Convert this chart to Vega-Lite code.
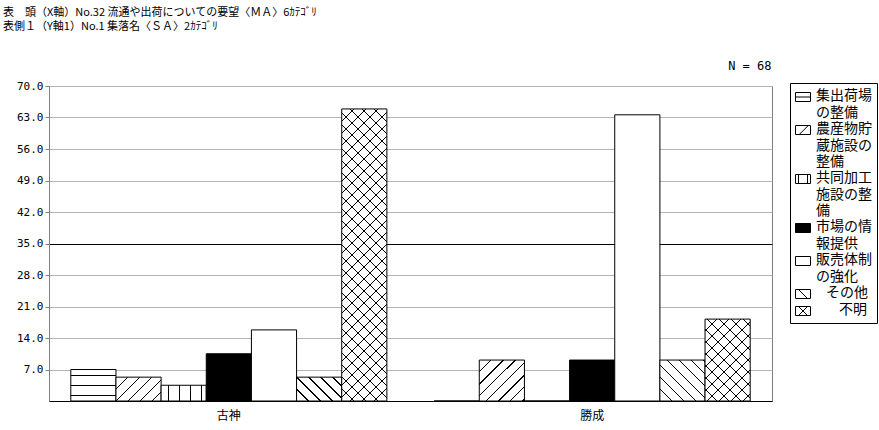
{
 "$schema": "https://vega.github.io/schema/vega-lite/v6.json",
 "width": 723,
 "height": 315,
 "autosize": "none",
 "padding": {"left": 49, "top": 86, "right": 107, "bottom": 29},
 "background": "white",
 "title": {"text": ["表　頭（X軸）No.32 流通や出荷についての要望〈ＭＡ〉6ｶﾃｺﾞﾘ", "表側１（Y軸1）No.1 集落名〈ＳＡ〉2ｶﾃｺﾞﾘ"], "anchor": "start", "frame": "group", "dx": -46, "offset": 16, "baseline": "bottom", "font": "Noto Sans CJK JP", "fontSize": 11, "fontWeight": "normal", "color": "black", "lineHeight": 14},
 "data": {"values": [
  {"group": "古神", "cat": "集出荷場の整備", "value": 7.0},
  {"group": "古神", "cat": "農産物貯蔵施設の整備", "value": 5.3},
  {"group": "古神", "cat": "共同加工施設の整備", "value": 3.5},
  {"group": "古神", "cat": "市場の情報提供", "value": 10.5},
  {"group": "古神", "cat": "販売体制の強化", "value": 15.8},
  {"group": "古神", "cat": "その他", "value": 5.3},
  {"group": "古神", "cat": "不明", "value": 64.9},
  {"group": "勝成", "cat": "集出荷場の整備", "value": 0},
  {"group": "勝成", "cat": "農産物貯蔵施設の整備", "value": 9.1},
  {"group": "勝成", "cat": "共同加工施設の整備", "value": 0},
  {"group": "勝成", "cat": "市場の情報提供", "value": 9.1},
  {"group": "勝成", "cat": "販売体制の強化", "value": 63.6},
  {"group": "勝成", "cat": "その他", "value": 9.1},
  {"group": "勝成", "cat": "不明", "value": 18.2}
 ]},
 "encoding": {
  "x": {"field": "group", "type": "nominal", "sort": ["古神", "勝成"], "scale": {"paddingInner": 0.13, "paddingOuter": 0.06},
   "axis": {"title": null, "labelAngle": 0, "labelFont": "Noto Sans CJK JP", "labelFontSize": 12, "labelColor": "black", "ticks": false, "domainColor": "black", "labelPadding": 9, "grid": false}},
  "xOffset": {"field": "cat", "type": "nominal", "scale": {"domain": ["集出荷場の整備", "農産物貯蔵施設の整備", "共同加工施設の整備", "市場の情報提供", "販売体制の強化", "その他", "不明"]}},
  "y": {"field": "value", "type": "quantitative", "scale": {"domain": [0, 70], "nice": false},
   "axis": {"values": [7, 14, 21, 28, 35, 42, 49, 56, 63, 70], "format": ".1f", "labelFont": "DejaVu Sans Mono", "labelFontSize": 11, "labelColor": "black", "labelPadding": 2, "tickSize": 4, "tickColor": "#808080", "domainColor": "#808080", "grid": true,
    "gridColor": {"condition": {"test": "datum.value === 35", "value": "black"}, "value": "#b4b4b4"},
    "title": "N = 68", "titleAngle": 0, "titleX": 722, "titleY": -17, "titleAlign": "right", "titleBaseline": "alphabetic", "titleFont": "DejaVu Sans Mono", "titleFontSize": 12, "titleFontWeight": "normal", "titleColor": "black"}}
 },
 "layer": [
  {
   "mark": {"type": "bar", "stroke": "black", "strokeWidth": 1},
   "encoding": {
    "fill": {
     "condition": [
      {"test": "datum.cat === '集出荷場の整備'", "value": {"gradient": "linear", "x1": 0, "y1": 1, "x2": 0, "y2": 0, "stops": [
       {"offset": 0.143, "color": "#fff"}, {"offset": 0.143, "color": "#000"}, {"offset": 0.175, "color": "#000"}, {"offset": 0.175, "color": "#fff"},
       {"offset": 0.476, "color": "#fff"}, {"offset": 0.476, "color": "#000"}, {"offset": 0.508, "color": "#000"}, {"offset": 0.508, "color": "#fff"},
       {"offset": 0.809, "color": "#fff"}, {"offset": 0.809, "color": "#000"}, {"offset": 0.841, "color": "#000"}, {"offset": 0.841, "color": "#fff"}]}},
      {"test": "datum.cat === '共同加工施設の整備'", "value": {"gradient": "linear", "x1": 0, "y1": 0, "x2": 1, "y2": 0, "stops": [
       {"offset": 0.155, "color": "#fff"}, {"offset": 0.155, "color": "#000"}, {"offset": 0.177, "color": "#000"}, {"offset": 0.177, "color": "#fff"},
       {"offset": 0.399, "color": "#fff"}, {"offset": 0.399, "color": "#000"}, {"offset": 0.421, "color": "#000"}, {"offset": 0.421, "color": "#fff"},
       {"offset": 0.643, "color": "#fff"}, {"offset": 0.643, "color": "#000"}, {"offset": 0.665, "color": "#000"}, {"offset": 0.665, "color": "#fff"},
       {"offset": 0.887, "color": "#fff"}, {"offset": 0.887, "color": "#000"}, {"offset": 0.909, "color": "#000"}, {"offset": 0.909, "color": "#fff"}]}},
      {"test": "datum.cat === '農産物貯蔵施設の整備' && datum.group === '古神'", "value": {"gradient": "linear", "x1": 0, "y1": 0, "x2": 1.195, "y2": 0.631, "stops": [
       {"offset": 0.164, "color": "#fff"}, {"offset": 0.164, "color": "#000"}, {"offset": 0.184, "color": "#000"}, {"offset": 0.184, "color": "#fff"},
       {"offset": 0.338, "color": "#fff"}, {"offset": 0.338, "color": "#000"}, {"offset": 0.358, "color": "#000"}, {"offset": 0.358, "color": "#fff"},
       {"offset": 0.512, "color": "#fff"}, {"offset": 0.512, "color": "#000"}, {"offset": 0.532, "color": "#000"}, {"offset": 0.532, "color": "#fff"},
       {"offset": 0.686, "color": "#fff"}, {"offset": 0.686, "color": "#000"}, {"offset": 0.706, "color": "#000"}, {"offset": 0.706, "color": "#fff"},
       {"offset": 0.860, "color": "#fff"}, {"offset": 0.860, "color": "#000"}, {"offset": 0.880, "color": "#000"}, {"offset": 0.880, "color": "#fff"}]}},
      {"test": "datum.cat === '農産物貯蔵施設の整備'", "value": {"gradient": "linear", "x1": 0, "y1": 0, "x2": 1.046, "y2": 0.949, "stops": [
       {"offset": 0.131, "color": "#fff"}, {"offset": 0.131, "color": "#000"}, {"offset": 0.147, "color": "#000"}, {"offset": 0.147, "color": "#fff"},
       {"offset": 0.271, "color": "#fff"}, {"offset": 0.271, "color": "#000"}, {"offset": 0.287, "color": "#000"}, {"offset": 0.287, "color": "#fff"},
       {"offset": 0.410, "color": "#fff"}, {"offset": 0.410, "color": "#000"}, {"offset": 0.426, "color": "#000"}, {"offset": 0.426, "color": "#fff"},
       {"offset": 0.549, "color": "#fff"}, {"offset": 0.549, "color": "#000"}, {"offset": 0.565, "color": "#000"}, {"offset": 0.565, "color": "#fff"},
       {"offset": 0.689, "color": "#fff"}, {"offset": 0.689, "color": "#000"}, {"offset": 0.705, "color": "#000"}, {"offset": 0.705, "color": "#fff"},
       {"offset": 0.828, "color": "#fff"}, {"offset": 0.828, "color": "#000"}, {"offset": 0.844, "color": "#000"}, {"offset": 0.844, "color": "#fff"},
       {"offset": 0.968, "color": "#fff"}, {"offset": 0.968, "color": "#000"}, {"offset": 0.984, "color": "#000"}, {"offset": 0.984, "color": "#fff"}]}},
      {"test": "datum.cat === 'その他' && datum.group === '古神'", "value": {"gradient": "linear", "x1": 0, "y1": 1, "x2": 1.195, "y2": 0.369, "stops": [
       {"offset": 0.164, "color": "#fff"}, {"offset": 0.164, "color": "#000"}, {"offset": 0.184, "color": "#000"}, {"offset": 0.184, "color": "#fff"},
       {"offset": 0.338, "color": "#fff"}, {"offset": 0.338, "color": "#000"}, {"offset": 0.358, "color": "#000"}, {"offset": 0.358, "color": "#fff"},
       {"offset": 0.512, "color": "#fff"}, {"offset": 0.512, "color": "#000"}, {"offset": 0.532, "color": "#000"}, {"offset": 0.532, "color": "#fff"},
       {"offset": 0.686, "color": "#fff"}, {"offset": 0.686, "color": "#000"}, {"offset": 0.706, "color": "#000"}, {"offset": 0.706, "color": "#fff"},
       {"offset": 0.860, "color": "#fff"}, {"offset": 0.860, "color": "#000"}, {"offset": 0.880, "color": "#000"}, {"offset": 0.880, "color": "#fff"}]}},
      {"test": "datum.cat === 'その他'", "value": {"gradient": "linear", "x1": 0, "y1": 1, "x2": 1.046, "y2": 0.051, "stops": [
       {"offset": 0.131, "color": "#fff"}, {"offset": 0.131, "color": "#000"}, {"offset": 0.147, "color": "#000"}, {"offset": 0.147, "color": "#fff"},
       {"offset": 0.271, "color": "#fff"}, {"offset": 0.271, "color": "#000"}, {"offset": 0.287, "color": "#000"}, {"offset": 0.287, "color": "#fff"},
       {"offset": 0.410, "color": "#fff"}, {"offset": 0.410, "color": "#000"}, {"offset": 0.426, "color": "#000"}, {"offset": 0.426, "color": "#fff"},
       {"offset": 0.549, "color": "#fff"}, {"offset": 0.549, "color": "#000"}, {"offset": 0.565, "color": "#000"}, {"offset": 0.565, "color": "#fff"},
       {"offset": 0.689, "color": "#fff"}, {"offset": 0.689, "color": "#000"}, {"offset": 0.705, "color": "#000"}, {"offset": 0.705, "color": "#fff"},
       {"offset": 0.828, "color": "#fff"}, {"offset": 0.828, "color": "#000"}, {"offset": 0.844, "color": "#000"}, {"offset": 0.844, "color": "#fff"},
       {"offset": 0.968, "color": "#fff"}, {"offset": 0.968, "color": "#000"}, {"offset": 0.984, "color": "#000"}, {"offset": 0.984, "color": "#fff"}]}},
      {"test": "datum.cat === '不明' && datum.group === '古神'", "value": {"gradient": "linear", "x1": 0, "y1": 0, "x2": 0.1744, "y2": 1.128, "stops": [
       {"offset": 0.0336, "color": "#fff"}, {"offset": 0.0336, "color": "#000"}, {"offset": 0.0376, "color": "#000"}, {"offset": 0.0376, "color": "#fff"},
       {"offset": 0.0692, "color": "#fff"}, {"offset": 0.0692, "color": "#000"}, {"offset": 0.0732, "color": "#000"}, {"offset": 0.0732, "color": "#fff"},
       {"offset": 0.1048, "color": "#fff"}, {"offset": 0.1048, "color": "#000"}, {"offset": 0.1088, "color": "#000"}, {"offset": 0.1088, "color": "#fff"},
       {"offset": 0.1404, "color": "#fff"}, {"offset": 0.1404, "color": "#000"}, {"offset": 0.1444, "color": "#000"}, {"offset": 0.1444, "color": "#fff"},
       {"offset": 0.176, "color": "#fff"}, {"offset": 0.176, "color": "#000"}, {"offset": 0.18, "color": "#000"}, {"offset": 0.18, "color": "#fff"},
       {"offset": 0.2116, "color": "#fff"}, {"offset": 0.2116, "color": "#000"}, {"offset": 0.2156, "color": "#000"}, {"offset": 0.2156, "color": "#fff"},
       {"offset": 0.2472, "color": "#fff"}, {"offset": 0.2472, "color": "#000"}, {"offset": 0.2512, "color": "#000"}, {"offset": 0.2512, "color": "#fff"},
       {"offset": 0.2828, "color": "#fff"}, {"offset": 0.2828, "color": "#000"}, {"offset": 0.2868, "color": "#000"}, {"offset": 0.2868, "color": "#fff"},
       {"offset": 0.3184, "color": "#fff"}, {"offset": 0.3184, "color": "#000"}, {"offset": 0.3224, "color": "#000"}, {"offset": 0.3224, "color": "#fff"},
       {"offset": 0.354, "color": "#fff"}, {"offset": 0.354, "color": "#000"}, {"offset": 0.358, "color": "#000"}, {"offset": 0.358, "color": "#fff"},
       {"offset": 0.3896, "color": "#fff"}, {"offset": 0.3896, "color": "#000"}, {"offset": 0.3936, "color": "#000"}, {"offset": 0.3936, "color": "#fff"},
       {"offset": 0.4252, "color": "#fff"}, {"offset": 0.4252, "color": "#000"}, {"offset": 0.4292, "color": "#000"}, {"offset": 0.4292, "color": "#fff"},
       {"offset": 0.4608, "color": "#fff"}, {"offset": 0.4608, "color": "#000"}, {"offset": 0.4648, "color": "#000"}, {"offset": 0.4648, "color": "#fff"},
       {"offset": 0.4964, "color": "#fff"}, {"offset": 0.4964, "color": "#000"}, {"offset": 0.5004, "color": "#000"}, {"offset": 0.5004, "color": "#fff"},
       {"offset": 0.532, "color": "#fff"}, {"offset": 0.532, "color": "#000"}, {"offset": 0.536, "color": "#000"}, {"offset": 0.536, "color": "#fff"},
       {"offset": 0.5676, "color": "#fff"}, {"offset": 0.5676, "color": "#000"}, {"offset": 0.5716, "color": "#000"}, {"offset": 0.5716, "color": "#fff"},
       {"offset": 0.6032, "color": "#fff"}, {"offset": 0.6032, "color": "#000"}, {"offset": 0.6072, "color": "#000"}, {"offset": 0.6072, "color": "#fff"},
       {"offset": 0.6388, "color": "#fff"}, {"offset": 0.6388, "color": "#000"}, {"offset": 0.6428, "color": "#000"}, {"offset": 0.6428, "color": "#fff"},
       {"offset": 0.6744, "color": "#fff"}, {"offset": 0.6744, "color": "#000"}, {"offset": 0.6784, "color": "#000"}, {"offset": 0.6784, "color": "#fff"},
       {"offset": 0.71, "color": "#fff"}, {"offset": 0.71, "color": "#000"}, {"offset": 0.714, "color": "#000"}, {"offset": 0.714, "color": "#fff"},
       {"offset": 0.7456, "color": "#fff"}, {"offset": 0.7456, "color": "#000"}, {"offset": 0.7496, "color": "#000"}, {"offset": 0.7496, "color": "#fff"},
       {"offset": 0.7812, "color": "#fff"}, {"offset": 0.7812, "color": "#000"}, {"offset": 0.7852, "color": "#000"}, {"offset": 0.7852, "color": "#fff"},
       {"offset": 0.8168, "color": "#fff"}, {"offset": 0.8168, "color": "#000"}, {"offset": 0.8208, "color": "#000"}, {"offset": 0.8208, "color": "#fff"},
       {"offset": 0.8524, "color": "#fff"}, {"offset": 0.8524, "color": "#000"}, {"offset": 0.8564, "color": "#000"}, {"offset": 0.8564, "color": "#fff"},
       {"offset": 0.888, "color": "#fff"}, {"offset": 0.888, "color": "#000"}, {"offset": 0.892, "color": "#000"}, {"offset": 0.892, "color": "#fff"},
       {"offset": 0.9236, "color": "#fff"}, {"offset": 0.9236, "color": "#000"}, {"offset": 0.9276, "color": "#000"}, {"offset": 0.9276, "color": "#fff"},
       {"offset": 0.9592, "color": "#fff"}, {"offset": 0.9592, "color": "#000"}, {"offset": 0.9632, "color": "#000"}, {"offset": 0.9632, "color": "#fff"}]}},
      {"test": "datum.cat === '不明'", "value": {"gradient": "linear", "x1": 0, "y1": 0, "x2": 0.656, "y2": 1.1897, "stops": [
       {"offset": 0.089, "color": "#fff"}, {"offset": 0.089, "color": "#000"}, {"offset": 0.1, "color": "#000"}, {"offset": 0.1, "color": "#fff"},
       {"offset": 0.1835, "color": "#fff"}, {"offset": 0.1835, "color": "#000"}, {"offset": 0.1945, "color": "#000"}, {"offset": 0.1945, "color": "#fff"},
       {"offset": 0.278, "color": "#fff"}, {"offset": 0.278, "color": "#000"}, {"offset": 0.289, "color": "#000"}, {"offset": 0.289, "color": "#fff"},
       {"offset": 0.3725, "color": "#fff"}, {"offset": 0.3725, "color": "#000"}, {"offset": 0.3835, "color": "#000"}, {"offset": 0.3835, "color": "#fff"},
       {"offset": 0.467, "color": "#fff"}, {"offset": 0.467, "color": "#000"}, {"offset": 0.478, "color": "#000"}, {"offset": 0.478, "color": "#fff"},
       {"offset": 0.5615, "color": "#fff"}, {"offset": 0.5615, "color": "#000"}, {"offset": 0.5725, "color": "#000"}, {"offset": 0.5725, "color": "#fff"},
       {"offset": 0.656, "color": "#fff"}, {"offset": 0.656, "color": "#000"}, {"offset": 0.667, "color": "#000"}, {"offset": 0.667, "color": "#fff"},
       {"offset": 0.7505, "color": "#fff"}, {"offset": 0.7505, "color": "#000"}, {"offset": 0.7615, "color": "#000"}, {"offset": 0.7615, "color": "#fff"},
       {"offset": 0.845, "color": "#fff"}, {"offset": 0.845, "color": "#000"}, {"offset": 0.856, "color": "#000"}, {"offset": 0.856, "color": "#fff"},
       {"offset": 0.9395, "color": "#fff"}, {"offset": 0.9395, "color": "#000"}, {"offset": 0.9505, "color": "#000"}, {"offset": 0.9505, "color": "#fff"}]}}
     ],
     "field": "cat", "type": "nominal",
     "scale": {"domain": ["集出荷場の整備", "農産物貯蔵施設の整備", "共同加工施設の整備", "市場の情報提供", "販売体制の強化", "その他", "不明"], "range": ["white", "white", "white", "black", "white", "white", "white"]},
     "legend": {
      "title": null, "orient": "none", "legendX": 741, "legendY": -3, "padding": 5, "strokeColor": "black", "fillColor": "white",
      "symbolType": "M-1,-0.6H1V0.6H-1Z", "symbolSize": 225, "symbolStrokeColor": "black", "symbolStrokeWidth": 1,
      "labelFont": "Noto Sans CJK JP", "labelFontSize": 14, "labelColor": "black", "labelOffset": 5, "labelBaseline": "top", "rowPadding": 1,
      "labelExpr": "length(datum.label) > 8 ? [substring(datum.label, 0, 4), substring(datum.label, 4, 8), substring(datum.label, 8)] : length(datum.label) > 4 ? [substring(datum.label, 0, 4), substring(datum.label, 4)] : datum.label",
      "encode": {
       "symbols": {"update": {"y": {"value": 9}, "shape": [
        {"test": "datum.value === '集出荷場の整備'", "value": "M-1,-0.6H1V0.6H-1ZM-1,0H1"},
        {"test": "datum.value === '農産物貯蔵施設の整備'", "value": "M-1,-0.6H1V0.6H-1ZM-0.5,0.6L0.7,-0.6"},
        {"test": "datum.value === '共同加工施設の整備'", "value": "M-1,-0.6H1V0.6H-1ZM-0.6,-0.6V0.6M0.6,-0.6V0.6"},
        {"test": "datum.value === 'その他'", "value": "M-1,-0.6H1V0.6H-1ZM-0.6,-0.6L0.6,0.6"},
        {"test": "datum.value === '不明'", "value": "M-1,-0.6H1V0.6H-1ZM-0.6,-0.6L0.6,0.6M0.6,-0.6L-0.6,0.6"},
        {"value": "M-1,-0.6H1V0.6H-1Z"}]}},
       "labels": {"enter": {"lineHeight": {"value": 16.5}}, "update": {"lineHeight": {"value": 16.5}, "y": {"value": 1},
        "dx": [{"test": "datum.value === 'その他'", "value": 10}, {"test": "datum.value === '不明'", "value": 23}, {"value": 0}]}}
      }
     }
    }
   }
  },
  {
   "transform": [{"filter": "datum.cat === '不明'"}],
   "mark": {"type": "bar", "strokeWidth": 0},
   "encoding": {
    "fill": {
     "condition": {"test": "datum.group === '古神'", "value": {"gradient": "linear", "x1": 0, "y1": 1, "x2": 0.1744, "y2": -0.128, "stops": [
       {"offset": 0.0336, "color": "transparent"}, {"offset": 0.0336, "color": "#000"}, {"offset": 0.0376, "color": "#000"}, {"offset": 0.0376, "color": "transparent"},
       {"offset": 0.0692, "color": "transparent"}, {"offset": 0.0692, "color": "#000"}, {"offset": 0.0732, "color": "#000"}, {"offset": 0.0732, "color": "transparent"},
       {"offset": 0.1048, "color": "transparent"}, {"offset": 0.1048, "color": "#000"}, {"offset": 0.1088, "color": "#000"}, {"offset": 0.1088, "color": "transparent"},
       {"offset": 0.1404, "color": "transparent"}, {"offset": 0.1404, "color": "#000"}, {"offset": 0.1444, "color": "#000"}, {"offset": 0.1444, "color": "transparent"},
       {"offset": 0.176, "color": "transparent"}, {"offset": 0.176, "color": "#000"}, {"offset": 0.18, "color": "#000"}, {"offset": 0.18, "color": "transparent"},
       {"offset": 0.2116, "color": "transparent"}, {"offset": 0.2116, "color": "#000"}, {"offset": 0.2156, "color": "#000"}, {"offset": 0.2156, "color": "transparent"},
       {"offset": 0.2472, "color": "transparent"}, {"offset": 0.2472, "color": "#000"}, {"offset": 0.2512, "color": "#000"}, {"offset": 0.2512, "color": "transparent"},
       {"offset": 0.2828, "color": "transparent"}, {"offset": 0.2828, "color": "#000"}, {"offset": 0.2868, "color": "#000"}, {"offset": 0.2868, "color": "transparent"},
       {"offset": 0.3184, "color": "transparent"}, {"offset": 0.3184, "color": "#000"}, {"offset": 0.3224, "color": "#000"}, {"offset": 0.3224, "color": "transparent"},
       {"offset": 0.354, "color": "transparent"}, {"offset": 0.354, "color": "#000"}, {"offset": 0.358, "color": "#000"}, {"offset": 0.358, "color": "transparent"},
       {"offset": 0.3896, "color": "transparent"}, {"offset": 0.3896, "color": "#000"}, {"offset": 0.3936, "color": "#000"}, {"offset": 0.3936, "color": "transparent"},
       {"offset": 0.4252, "color": "transparent"}, {"offset": 0.4252, "color": "#000"}, {"offset": 0.4292, "color": "#000"}, {"offset": 0.4292, "color": "transparent"},
       {"offset": 0.4608, "color": "transparent"}, {"offset": 0.4608, "color": "#000"}, {"offset": 0.4648, "color": "#000"}, {"offset": 0.4648, "color": "transparent"},
       {"offset": 0.4964, "color": "transparent"}, {"offset": 0.4964, "color": "#000"}, {"offset": 0.5004, "color": "#000"}, {"offset": 0.5004, "color": "transparent"},
       {"offset": 0.532, "color": "transparent"}, {"offset": 0.532, "color": "#000"}, {"offset": 0.536, "color": "#000"}, {"offset": 0.536, "color": "transparent"},
       {"offset": 0.5676, "color": "transparent"}, {"offset": 0.5676, "color": "#000"}, {"offset": 0.5716, "color": "#000"}, {"offset": 0.5716, "color": "transparent"},
       {"offset": 0.6032, "color": "transparent"}, {"offset": 0.6032, "color": "#000"}, {"offset": 0.6072, "color": "#000"}, {"offset": 0.6072, "color": "transparent"},
       {"offset": 0.6388, "color": "transparent"}, {"offset": 0.6388, "color": "#000"}, {"offset": 0.6428, "color": "#000"}, {"offset": 0.6428, "color": "transparent"},
       {"offset": 0.6744, "color": "transparent"}, {"offset": 0.6744, "color": "#000"}, {"offset": 0.6784, "color": "#000"}, {"offset": 0.6784, "color": "transparent"},
       {"offset": 0.71, "color": "transparent"}, {"offset": 0.71, "color": "#000"}, {"offset": 0.714, "color": "#000"}, {"offset": 0.714, "color": "transparent"},
       {"offset": 0.7456, "color": "transparent"}, {"offset": 0.7456, "color": "#000"}, {"offset": 0.7496, "color": "#000"}, {"offset": 0.7496, "color": "transparent"},
       {"offset": 0.7812, "color": "transparent"}, {"offset": 0.7812, "color": "#000"}, {"offset": 0.7852, "color": "#000"}, {"offset": 0.7852, "color": "transparent"},
       {"offset": 0.8168, "color": "transparent"}, {"offset": 0.8168, "color": "#000"}, {"offset": 0.8208, "color": "#000"}, {"offset": 0.8208, "color": "transparent"},
       {"offset": 0.8524, "color": "transparent"}, {"offset": 0.8524, "color": "#000"}, {"offset": 0.8564, "color": "#000"}, {"offset": 0.8564, "color": "transparent"},
       {"offset": 0.888, "color": "transparent"}, {"offset": 0.888, "color": "#000"}, {"offset": 0.892, "color": "#000"}, {"offset": 0.892, "color": "transparent"},
       {"offset": 0.9236, "color": "transparent"}, {"offset": 0.9236, "color": "#000"}, {"offset": 0.9276, "color": "#000"}, {"offset": 0.9276, "color": "transparent"},
       {"offset": 0.9592, "color": "transparent"}, {"offset": 0.9592, "color": "#000"}, {"offset": 0.9632, "color": "#000"}, {"offset": 0.9632, "color": "transparent"}]}},
     "value": {"gradient": "linear", "x1": 0, "y1": 1, "x2": 0.656, "y2": -0.1897, "stops": [
       {"offset": 0.089, "color": "transparent"}, {"offset": 0.089, "color": "#000"}, {"offset": 0.1, "color": "#000"}, {"offset": 0.1, "color": "transparent"},
       {"offset": 0.1835, "color": "transparent"}, {"offset": 0.1835, "color": "#000"}, {"offset": 0.1945, "color": "#000"}, {"offset": 0.1945, "color": "transparent"},
       {"offset": 0.278, "color": "transparent"}, {"offset": 0.278, "color": "#000"}, {"offset": 0.289, "color": "#000"}, {"offset": 0.289, "color": "transparent"},
       {"offset": 0.3725, "color": "transparent"}, {"offset": 0.3725, "color": "#000"}, {"offset": 0.3835, "color": "#000"}, {"offset": 0.3835, "color": "transparent"},
       {"offset": 0.467, "color": "transparent"}, {"offset": 0.467, "color": "#000"}, {"offset": 0.478, "color": "#000"}, {"offset": 0.478, "color": "transparent"},
       {"offset": 0.5615, "color": "transparent"}, {"offset": 0.5615, "color": "#000"}, {"offset": 0.5725, "color": "#000"}, {"offset": 0.5725, "color": "transparent"},
       {"offset": 0.656, "color": "transparent"}, {"offset": 0.656, "color": "#000"}, {"offset": 0.667, "color": "#000"}, {"offset": 0.667, "color": "transparent"},
       {"offset": 0.7505, "color": "transparent"}, {"offset": 0.7505, "color": "#000"}, {"offset": 0.7615, "color": "#000"}, {"offset": 0.7615, "color": "transparent"},
       {"offset": 0.845, "color": "transparent"}, {"offset": 0.845, "color": "#000"}, {"offset": 0.856, "color": "#000"}, {"offset": 0.856, "color": "transparent"},
       {"offset": 0.9395, "color": "transparent"}, {"offset": 0.9395, "color": "#000"}, {"offset": 0.9505, "color": "#000"}, {"offset": 0.9505, "color": "transparent"}]}
    }
   }
  }
 ],
 "config": {
  "view": {"stroke": "#808080"},
  "font": "Noto Sans CJK JP"
 }
}
